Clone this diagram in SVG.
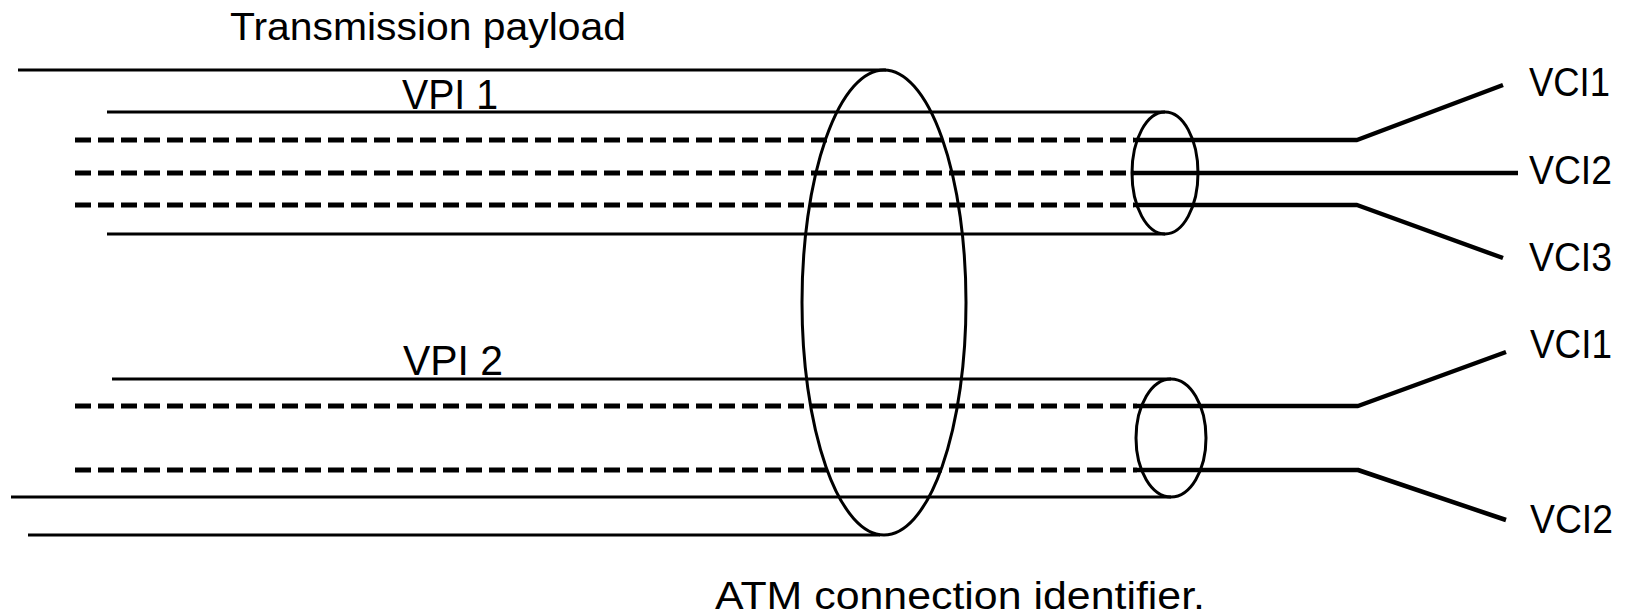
<svg xmlns="http://www.w3.org/2000/svg" width="1627" height="614" viewBox="0 0 1627 614">
<style>
text{font-family:"Liberation Sans",Arial,sans-serif;fill:#000}
.ln{stroke:#000;stroke-width:3;fill:none}
.ds{stroke:#000;stroke-width:5;fill:none;stroke-dasharray:16 7}
.vc{stroke:#000;stroke-width:4.5;fill:none;stroke-linejoin:round}
.el{stroke:#000;stroke-width:3;fill:none}
</style>
<rect width="1627" height="614" fill="#fff"/>
<g id="connectors">
<line class="ln" x1="18" y1="70" x2="886" y2="70"/>
<line class="ln" x1="28" y1="535" x2="880" y2="535"/>
<line class="ln" x1="107" y1="112" x2="1165" y2="112"/>
<line class="ln" x1="107" y1="234" x2="1165" y2="234"/>
<line class="ds" x1="75" y1="140" x2="1134" y2="140"/>
<line class="ds" x1="75" y1="173" x2="1134" y2="173"/>
<line class="ds" x1="75" y1="205" x2="1134" y2="205"/>
<polyline class="vc" points="1134,140 1357,140 1503,85"/>
<polyline class="vc" points="1134,173 1518,173"/>
<polyline class="vc" points="1134,205 1357,205 1503,258"/>
<line class="ln" x1="112" y1="379" x2="1171" y2="379"/>
<line class="ln" x1="11" y1="497" x2="1171" y2="497"/>
<line class="ds" x1="75" y1="406" x2="1137" y2="406"/>
<line class="ds" x1="75" y1="470" x2="1137" y2="470"/>
<polyline class="vc" points="1137,406 1358,406 1506,352"/>
<polyline class="vc" points="1137,470 1358,470 1506,520"/>
</g>
<g id="atm-connection">
<ellipse class="el" cx="884" cy="302.5" rx="82" ry="232.5"/>
<text x="715" y="609" font-size="39" textLength="490" lengthAdjust="spacingAndGlyphs">ATM connection identifier.</text>
</g>
<g id="transmission-payload">
<text x="230" y="40" font-size="38" textLength="396" lengthAdjust="spacingAndGlyphs">Transmission payload</text>
</g>
<g id="vpi1">
<ellipse class="el" cx="1165" cy="173" rx="33" ry="61"/>
<text x="402" y="109" font-size="42" textLength="96" lengthAdjust="spacingAndGlyphs">VPI 1</text>
</g>
<g id="vpi2">
<ellipse class="el" cx="1171" cy="438" rx="35" ry="59"/>
<text x="403" y="375" font-size="42" textLength="100" lengthAdjust="spacingAndGlyphs">VPI 2</text>
</g>
<g id="vpi1-vci1"><text x="1529" y="96" font-size="41" textLength="81" lengthAdjust="spacingAndGlyphs">VCI1</text></g>
<g id="vpi1-vci2"><text x="1529" y="184" font-size="41" textLength="83" lengthAdjust="spacingAndGlyphs">VCI2</text></g>
<g id="vpi1-vci3"><text x="1529" y="271" font-size="41" textLength="83" lengthAdjust="spacingAndGlyphs">VCI3</text></g>
<g id="vpi2-vci1"><text x="1530" y="358" font-size="41" textLength="82" lengthAdjust="spacingAndGlyphs">VCI1</text></g>
<g id="vpi2-vci2"><text x="1530" y="533" font-size="41" textLength="83" lengthAdjust="spacingAndGlyphs">VCI2</text></g>
</svg>
